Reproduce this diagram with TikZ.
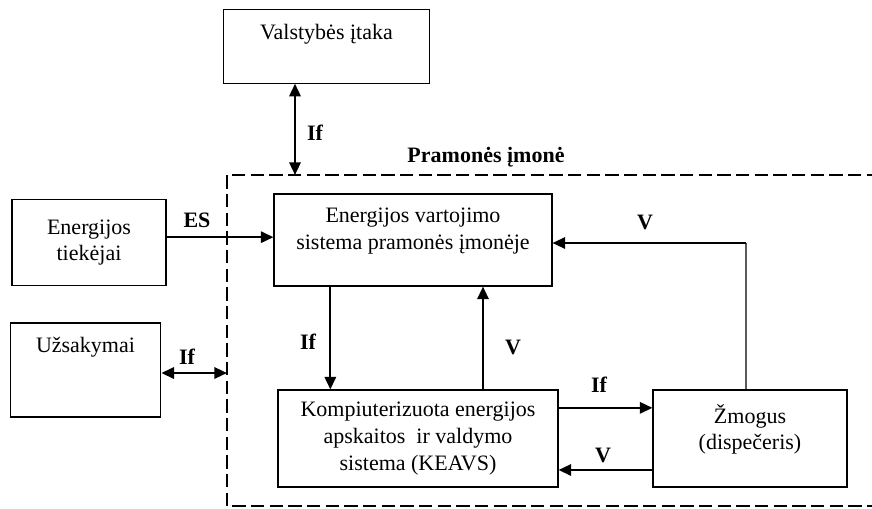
\documentclass[tikz,border=0pt]{standalone}
\usepackage{fontspec}
\setmainfont{Liberation Serif}
\usetikzlibrary{arrows.meta}
\tikzset{
  box/.style={draw, line width=0.8pt, inner sep=0pt, align=center},
  toptext/.style={label={[anchor=north,align=center,inner sep=0pt,yshift=-11pt]north:#1}},
  arr/.style={line width=1.7pt, -{Triangle[length=9.5pt,width=8.5pt]}},
  darr/.style={line width=1.7pt, {Triangle[length=9.5pt,width=8.5pt]}-{Triangle[length=9.5pt,width=8.5pt]}},
  sig/.style={font=\fontsize{16.5}{20}\selectfont\bfseries},
  plantframe/.style={line width=1.5pt, dash pattern=on 10pt off 4pt},
}
\begin{document}
\begin{tikzpicture}[x=0.75pt,y=-0.75pt,font=\fontsize{16.5}{20}\selectfont]
  \useasboundingbox (0,0) rectangle (872,508);
  % Plant boundary
  \draw[plantframe] (880,175) -| (227,506) -- (880,506);
  \coordinate (ftop) at (295,175);
  \coordinate (fleft) at (227,373);
  \node[sig] (plant) at (486,157) {Pramonės įmonė};
  % Blocks
  \node[box, minimum width=155pt, minimum height=55pt, toptext={Valstybės įtaka}] (valst) at (326.5,46.5) {};
  \node[box, minimum width=115.5pt, minimum height=65pt] (tiek) at (89,242.5) {Energijos\\tiekėjai};
  \node[box, minimum width=113pt, minimum height=70.5pt, toptext={Užsakymai}] (uzs) at (85.5,370) {};
  \node[box, minimum width=208.5pt, minimum height=69pt, toptext={Energijos vartojimo\\sistema pramonės įmonėje}] (evs) at (413,240) {};
  \node[box, minimum width=210pt, minimum height=72.75pt] (keavs) at (418,438.5) {Kompiuterizuota energijos\\apskaitos~ ir valdymo\\sistema (KEAVS)};
  \node[box, minimum width=145.5pt, minimum height=72.75pt, toptext={Žmogus\\(dispečeris)}] (zmog) at (750,438.5) {};
  % Flows
  \draw[darr] (valst.south -| ftop) -- (ftop);
  \node[sig] (ifvalst) at (315,133) {If};
  \draw[arr] ([yshift=4pt]tiek.east) -- ([yshift=4pt]tiek.east -| evs.west);
  \node[sig] (es) at (197,220) {ES};
  \draw[darr] (uzs.east |- fleft) -- (fleft);
  \node[sig] (ifuzs) at (187,357) {If};
  \draw[arr] ([xshift=-62pt]evs.south) -- ([xshift=-62pt]evs.south |- keavs.north);
  \node[sig] (ifdown) at (308,342) {If};
  \draw[arr] ([xshift=52.5pt]evs.south |- keavs.north) -- ([xshift=52.5pt]evs.south);
  \node[sig] (vup) at (513,347) {V};
  \draw[arr] ([yshift=23pt]keavs.east) -- ([yshift=23pt]keavs.east -| zmog.west);
  \node[sig] (ifright) at (599,385) {If};
  \draw[arr] ([yshift=-23.6pt]keavs.east -| zmog.west) -- ([yshift=-23.6pt]keavs.east);
  \node[sig] (vleft) at (603,455) {V};
  % Feedback from the dispatcher
  \coordinate (vcorner) at (746,243);
  \draw[line width=0.8pt, gray!70!black] ([xshift=-3pt]zmog.north) -- (vcorner);
  \draw[arr] (vcorner) -- (vcorner -| evs.east);
  \node[sig] (vback) at (645,222) {V};
\end{tikzpicture}
\end{document}
